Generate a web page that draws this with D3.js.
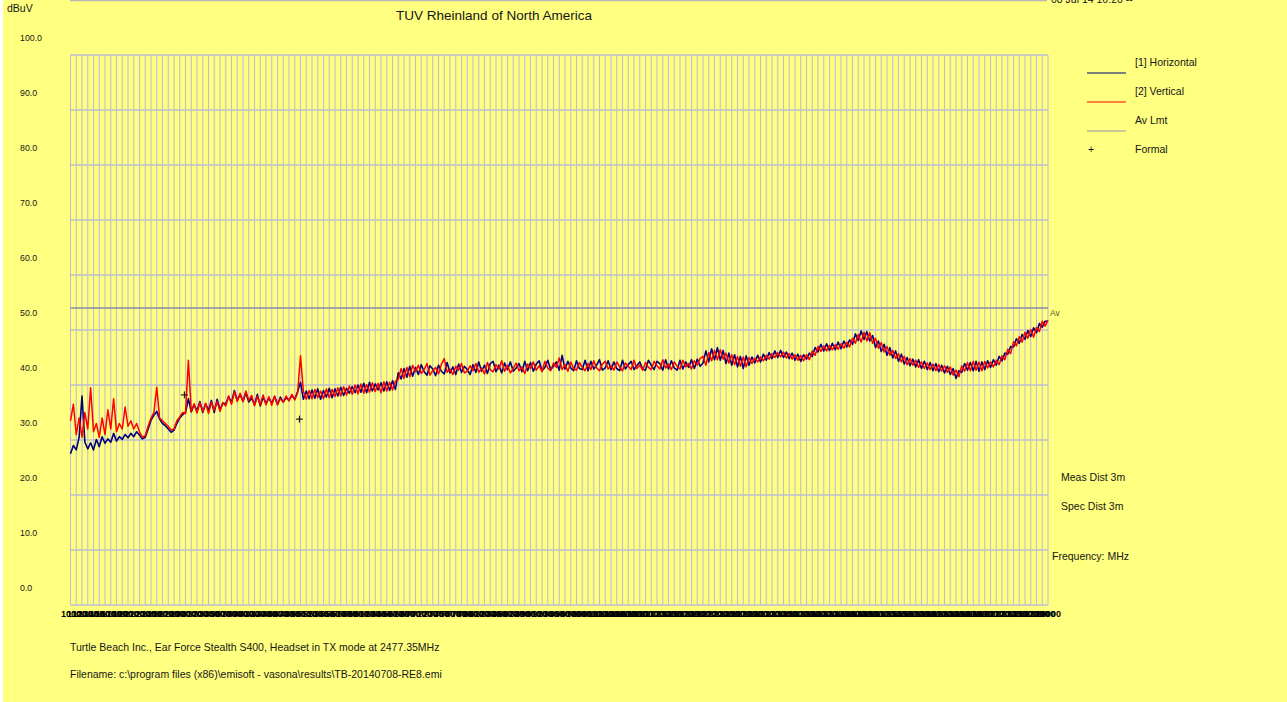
<!DOCTYPE html>
<html><head><meta charset="utf-8">
<script src="https://cdn.jsdelivr.net/npm/d3@7"></script>
<style>
html,body{margin:0;padding:0;background:#ffff80;overflow:hidden}
svg{display:block;font-family:"Liberation Sans",Arial,sans-serif}
</style></head><body>
<svg id="chart" width="1287" height="702"></svg>
<script>
// ---- data ----
const sweepStartMHz = 1000, sweepStepMHz = 50;
const verticalTrace = [
33.5,36.5,31,34,30.5,35,32,39.5,31.5,33,30.5,34,31,35.5,32,37.5,31.5,33,32,36,
32.5,33.5,32,33,31.5,30.5,30.8,32.5,34,35,39.6,34,33.5,33,32.5,31.8,32,33.5,34.2,35,
34.8,44.5,35.2,36.6,34.9,36.8,35.2,36.7,34.8,36.9,35.4,37,35.2,36.8,36.2,38,36.5,38.8,37,38.5,
37,38.9,37.2,38.1,36.2,37.9,36.4,38.2,36.4,37.9,36.3,38,36.5,37.5,36.9,38,37.1,38.3,37.3,38.6,
45.3,38.8,37.4,39,37.5,39.2,37.7,38.9,37.5,39.3,37.7,39.2,37.9,39.5,38,39.7,38.2,39.8,38.3,40,
38.4,40.2,38.5,40.1,38.7,40.4,38.8,40.3,38.6,40.6,38.9,40.5,39.1,40.7,41,43,41.2,43.2,41.5,43.6,
42.4,43.6,42.1,42.8,43.9,41.8,42.6,43.2,42.0,43.8,44.8,42.3,42.9,41.9,43.4,42.7,43.9,42.2,42.5,43.5,
42.6,43.9,42.3,43.1,42.0,44.1,42.8,42.4,43.7,42.9,44.4,42.5,43.6,42.2,43.0,44.0,42.6,43.3,42.1,43.8,
43.0,44.2,42.7,43.5,42.4,44.3,43.1,42.6,44.0,43.2,44.9,42.8,43.7,42.5,44.2,43.0,42.7,44.1,43.2,42.6,
43.9,42.8,44.4,43.1,42.6,43.8,44.3,42.9,43.5,42.7,44.2,43.3,42.6,44.0,43.4,42.8,44.5,43.0,43.6,42.7,
44.1,43.2,42.8,44.3,43.5,42.9,44.6,43.1,43.8,42.8,44.2,43.4,42.9,44.5,43.3,43.9,42.9,44.4,43.6,44.8,
45.2,43.6,45.9,44.4,46.3,44.6,46.4,44.7,45.8,44,45.5,43.7,45.2,43.4,45.1,43.3,45,43.9,44.9,44.2,
45.1,44.4,45.4,44.7,45.7,45,45.9,45.1,46,44.9,45.7,44.7,45.5,44.5,45.4,44.4,45.5,44.6,46.2,45.4,
47,46.1,47.1,46.2,47.2,46.4,47.3,46.5,47.5,46.7,47.8,46.9,48.5,47.6,49.2,47.8,49.6,48,49.5,47.6,
48.5,46.7,47.7,46,47,45.4,46.3,44.8,45.7,44.2,45.2,43.7,44.8,43.6,44.5,43.2,44.2,43,44,42.8,
43.8,42.6,43.7,42.5,43.5,42.3,43.3,41.8,42.7,41.5,43.5,42.5,44.1,42.6,44.3,42.7,44.2,42.6,44.3,43.1,
44.2,43.3,44.5,43.7,45.3,44.6,46.5,45.7,47.9,47.1,48.8,47.8,49.6,48.5,50.1,48.7,50.5,49.7,51.6,50.7,
51.8];
const horizontalTrace = [
27.5,29,28.2,30.5,38,29.6,28.4,29.5,28.2,30.1,28.8,30.6,29.4,30.2,29.6,31.2,29.8,30.6,30.1,31,
30.4,31.2,30.6,31.5,30.9,30.2,30.5,32,33.6,34.5,35.2,33.8,33,32.6,32,31.4,31.8,33,34,34.6,
35,37.5,35.1,36.4,35.3,37,35,36.6,35.4,37.2,35,37.4,35.5,36.7,36.6,37.9,36.8,39,37.2,38.3,
37,38.6,36.9,37.6,36.4,38.3,36.2,37.8,36.6,37.6,36.7,37.9,36.4,37.8,36.9,37.7,37.2,38.1,37.4,38.8,
40.5,37.4,38.9,37.5,39.1,37.6,39.3,37.4,39,37.8,39.4,37.7,39.3,38,39.6,38.1,39.4,38.5,39.7,38.6,
40,38.7,40.3,38.6,40.5,38.9,40.2,39.1,40.4,38.9,40.6,39,40.8,39.2,42.2,41.1,43,41.4,43.4,41.6,
43.2,41.9,43.7,42.4,41.8,43.5,42.9,41.7,43.6,42.5,42.0,44.1,42.2,43.3,41.9,43.8,42.3,43.4,42.8,41.9,
43.7,42.3,44.2,42.5,43.6,42.1,43.9,44.3,42.4,43.6,42.2,44.0,42.8,44.2,42.5,43.1,43.9,42.4,44.3,42.6,
44.1,42.5,43.8,44.4,42.6,43.2,44.5,42.8,43.4,44.2,42.7,45.4,42.9,44.3,43.1,42.6,44.4,43.0,42.8,44.5,
42.6,44.3,42.9,43.6,44.6,42.7,43.1,44.4,42.8,44.2,43.0,42.6,44.5,42.9,43.7,44.3,42.8,43.5,44.2,42.9,
42.7,44.5,43.6,42.8,44.3,43.9,42.7,44.6,42.9,44.4,43.1,42.7,44.5,42.9,44.2,43.2,44.6,43.0,44.7,43.4,
44,46.2,44.2,46.6,44.6,46.8,44.5,46.3,43.9,45.8,43.6,45.5,43.3,45.2,43,45.3,43.6,45.1,44,45.4,
44.2,45.6,44.5,45.9,44.8,46.2,45,46.3,45,46,44.8,45.8,44.5,45.6,44.3,45.5,44.7,45.8,45.2,46.8,
46,47.4,46.2,47.5,46.3,47.6,46.4,47.8,46.6,48,46.9,48.2,47.4,49.3,48.1,49.8,48.3,49.7,48,49,
46.8,48,46.1,47.4,45.4,46.8,44.9,46.2,44.3,45.6,43.8,45,43.5,44.7,43.3,44.6,43,44.3,42.8,44.1,
42.6,43.9,42.4,43.6,42.2,43.4,41.9,43,41.2,42.6,42.3,43.9,42.7,44.1,42.6,44.3,42.5,44.2,42.8,44.4,
43.2,44.6,43.6,45.2,44.4,45.8,45.6,47,46.9,48.4,47.6,49.2,48.3,49.9,48.8,50.4,49.5,51.2,50.5,51.6,
51.6];
const avLimit = [[1000, 54], [18000, 54]];
const formalPoints = [[2980, 38.2], [4981, 33.8]];
const xTickValues = d3.range(1000, 18001, 100);
const yTickValues = [0,10,20,30,40,50,60,70,80,90,100];
const legendItems = [
  {label: "[1] Horizontal", kind: "line", color: "#000080"},
  {label: "[2] Vertical", kind: "line", color: "#ff0000"},
  {label: "Av Lmt", kind: "line", color: "#9494b0"},
  {label: "Formal", kind: "plus", color: "#000000"}
];

// ---- chart ----
const svg = d3.select("#chart");
const W = 1287, H = 702;
const x = d3.scaleLinear().domain([1000, 18000]).range([70.5, 1048]);
const y = d3.scaleLinear().domain([0, 100]).range([605, 55]);
const textColor = "#161616";

svg.append("rect").attr("width", W).attr("height", H).attr("fill", "#ffff80");
svg.append("rect").attr("x", 0).attr("y", 0).attr("width", 3).attr("height", H).attr("fill", "#ffffff");

// top frame line and date
svg.append("line").attr("x1", 70).attr("x2", 1047).attr("y1", 0.5).attr("y2", 0.5)
  .attr("stroke", "#b8b8b8").attr("stroke-width", 1.5);
svg.append("text").attr("x", 1051).attr("y", 3).attr("font-size", 10.5).attr("fill", textColor)
  .text("08 Jul 14 10:20 --");

// title
svg.append("text").attr("x", 494).attr("y", 20).attr("text-anchor", "middle")
  .attr("font-size", 13.5).attr("fill", textColor).text("TUV Rheinland of North America");

// grid
const grid = svg.append("g");
grid.selectAll("line.v").data(xTickValues).join("line").attr("class", "v")
  .attr("x1", d => x(d)).attr("x2", d => x(d)).attr("y1", y(100)).attr("y2", y(0))
  .attr("stroke", "#bebed4").attr("stroke-width", 1.1);
grid.selectAll("line.h").data(yTickValues).join("line").attr("class", "h")
  .attr("x1", x(1000)).attr("x2", x(18000)).attr("y1", d => y(d)).attr("y2", d => y(d))
  .attr("stroke", "#bebed4").attr("stroke-width", 1.3);

// Av limit
const line = d3.line().x(d => x(d[0])).y(d => y(d[1]));
svg.append("path").datum(avLimit).attr("d", line).attr("fill", "none")
  .attr("stroke", "#8a8aa6").attr("stroke-width", 1.5);
svg.append("text").attr("x", 1050).attr("y", y(54) + 8).attr("font-size", 8.5)
  .attr("fill", "#5a5a20").text("Av");

// traces
const toPts = arr => arr.map((v, i) => [sweepStartMHz + i * sweepStepMHz, v]);
svg.append("path").datum(toPts(horizontalTrace)).attr("d", line).attr("fill", "none")
  .attr("stroke", "#000080").attr("stroke-width", 1.6).attr("stroke-linejoin", "round");
svg.append("path").datum(toPts(verticalTrace)).attr("d", line).attr("fill", "none")
  .attr("stroke", "#ff0000").attr("stroke-width", 1.5).attr("stroke-linejoin", "round");

// formal markers
svg.selectAll("g.formal").data(formalPoints).join("g").attr("class", "formal")
  .attr("transform", d => `translate(${x(d[0])},${y(d[1])})`)
  .each(function() {
    const g = d3.select(this);
    g.append("line").attr("x1", -3.5).attr("x2", 3.5).attr("y1", 0).attr("y2", 0).attr("stroke", "#000").attr("stroke-width", 1);
    g.append("line").attr("x1", 0).attr("x2", 0).attr("y1", -3.5).attr("y2", 3.5).attr("stroke", "#000").attr("stroke-width", 1);
  });

// y axis labels (drawn offset above gridlines as in original)
const yAxis = d3.axisLeft(y).tickValues(yTickValues).tickSize(0).tickFormat(d => d.toFixed(1));
const gy = svg.append("g").attr("transform", "translate(0,-17)").call(yAxis);
gy.select(".domain").remove();
gy.selectAll("text").attr("x", 20).attr("text-anchor", "start").attr("font-size", 8.8)
  .attr("font-family", "Liberation Sans, Arial, sans-serif").attr("fill", textColor);
svg.append("text").attr("x", 7).attr("y", 12).attr("font-size", 10.5).attr("fill", textColor).text("dBuV");

// x axis labels
const xAxis = d3.axisBottom(x).tickValues(xTickValues).tickSize(0).tickFormat(d3.format("d"));
const gx = svg.append("g").attr("transform", `translate(0,${y(0)})`).call(xAxis);
gx.select(".domain").remove();
gx.selectAll("text").attr("y", 9).attr("dy", "0.32em").attr("font-size", 9)
  .attr("font-weight", "bold")
  .attr("font-family", "Liberation Sans, Arial, sans-serif").attr("fill", "#000");

// legend
const lg = svg.append("g");
legendItems.forEach((it, i) => {
  const ty = 62 + i * 29;
  lg.append("text").attr("x", 1135).attr("y", ty + 4).attr("font-size", 10.5).attr("fill", textColor).text(it.label);
  if (it.kind === "line") {
    lg.append("line").attr("x1", 1087).attr("x2", 1126).attr("y1", ty + 11).attr("y2", ty + 11)
      .attr("stroke", it.color).attr("stroke-width", 1.2);
  } else {
    lg.append("text").attr("x", 1091).attr("y", ty + 4).attr("text-anchor", "middle").attr("font-size", 10.5).attr("fill", textColor).text("+");
  }
});

// right annotations
svg.append("text").attr("x", 1061).attr("y", 481).attr("font-size", 10.5).attr("fill", textColor).text("Meas Dist 3m");
svg.append("text").attr("x", 1061).attr("y", 510).attr("font-size", 10.5).attr("fill", textColor).text("Spec Dist 3m");
svg.append("text").attr("x", 1052).attr("y", 560).attr("font-size", 10.5).attr("fill", textColor).text("Frequency: MHz");

// bottom notes
svg.append("text").attr("x", 70).attr("y", 651).attr("font-size", 10.5).attr("fill", textColor)
  .text("Turtle Beach Inc., Ear Force Stealth S400, Headset in TX mode at 2477.35MHz");
svg.append("text").attr("x", 70).attr("y", 678).attr("font-size", 10.5).attr("fill", textColor)
  .text("Filename: c:\\program files (x86)\\emisoft - vasona\\results\\TB-20140708-RE8.emi");
</script>
</body></html>
